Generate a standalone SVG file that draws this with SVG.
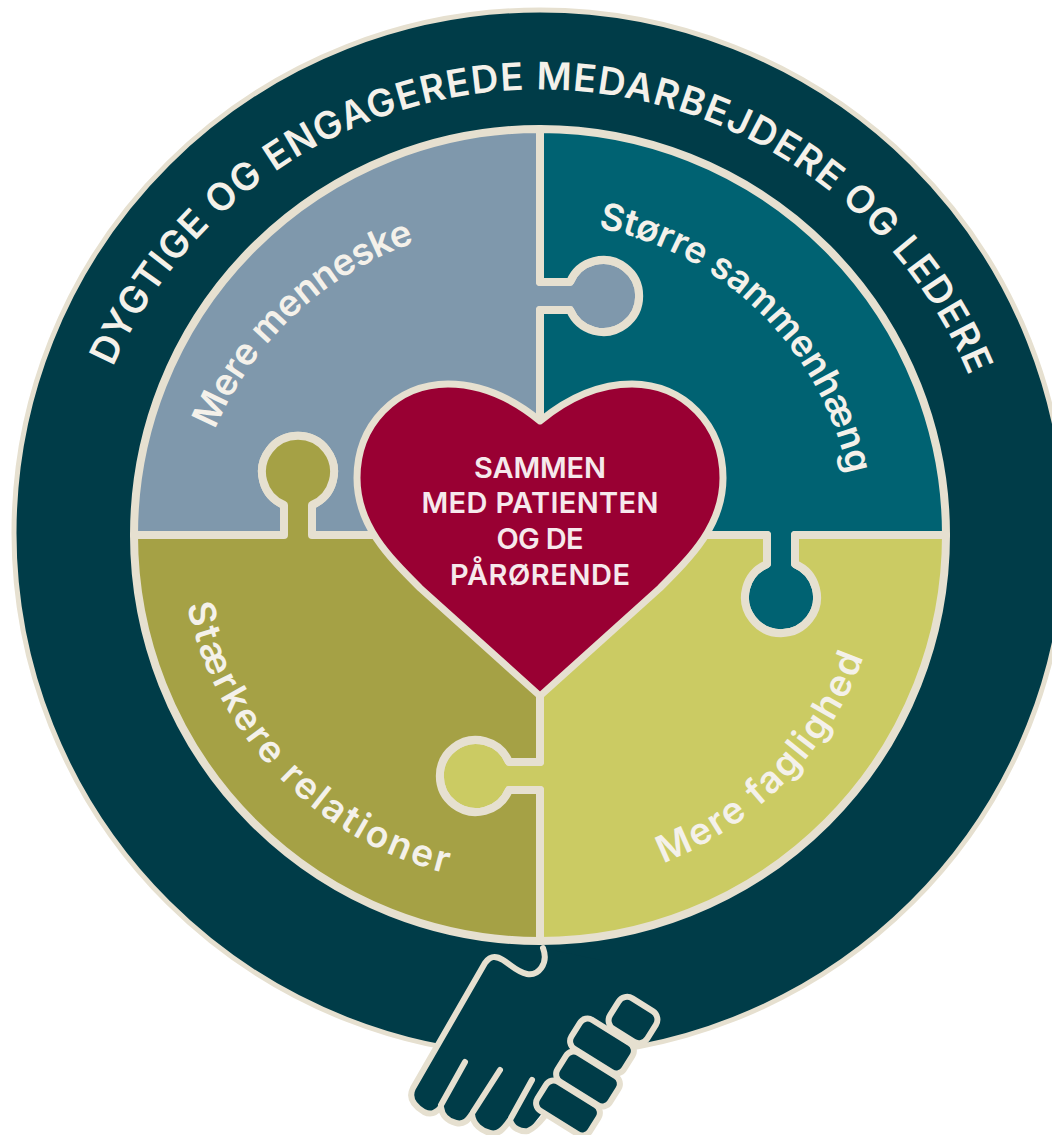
<svg xmlns="http://www.w3.org/2000/svg" width="1052" height="1135" viewBox="0 0 1052 1135">
<style>
.piece{stroke:#e6e0d0;stroke-width:8;stroke-linejoin:round}
.lbl{font-family:"Inter","Liberation Sans",sans-serif;font-weight:600;fill:#f4f1ea;font-size:37px}
.ring{font-family:"Inter","Liberation Sans",sans-serif;font-weight:600;fill:#f4f1ea;font-size:38px}
.ctr{font-family:"Inter","Liberation Sans",sans-serif;font-weight:600;fill:#f6e9ec;font-size:29px;text-anchor:middle}
.fg{fill:#003c48;stroke:#e6e0d0;stroke-width:6}
.ln{fill:none;stroke:#e6e0d0;stroke-width:6;stroke-linecap:round;stroke-linejoin:round}
</style>
<defs>
<path id="pRing" d="M 113 367 A 466 466 0 0 1 985 420"/>
<path id="pBlue" d="M 215 430 A 335 335 0 0 1 440 235"/>
<path id="pTeal" d="M 598 228 A 316 316 0 0 1 852 500"/>
<path id="pOlive" d="M 187 605 A 352 352 0 0 0 480 880"/>
<path id="pYellow" d="M 663 863 A 347 347 0 0 0 872 630"/>
</defs>
<rect width="1052" height="1135" fill="#ffffff"/>
<g id="ring">
<ellipse cx="540" cy="533" rx="526" ry="523" fill="#003c48" stroke="#e6e0d0" stroke-width="5"/>
<text class="ring"><textPath href="#pRing" textLength="1085" lengthAdjust="spacing">DYGTIGE OG ENGAGEREDE MEDARBEJDERE OG LEDERE</textPath></text>
</g>
<g id="piece-blue">
<path class="piece" fill="#7f98ac" d="M134 535A406 406 0 0 1 540 129L540 282L570 282A36 36 0 1 1 570 310L540 310L540 535L312 535L312 505A36 36 0 1 0 284 505L284 535Z"/>
<text class="lbl"><textPath href="#pBlue" textLength="282" lengthAdjust="spacing">Mere menneske</textPath></text>
</g>
<g id="piece-teal">
<path class="piece" fill="#006272" d="M540 129A406 406 0 0 1 946 535L795 535L795 564A36 36 0 1 1 767 564L767 535L540 535L540 310L570 310A36 36 0 1 0 570 282L540 282Z"/>
<text class="lbl"><textPath href="#pTeal" textLength="372" lengthAdjust="spacing">Større sammenhæng</textPath></text>
</g>
<g id="piece-yellow">
<path class="piece" fill="#cbcb63" d="M946 535A406 406 0 0 1 540 941L540 790L509 790A36 36 0 1 1 509 762L540 762L540 535L767 535L767 564A36 36 0 1 0 795 564L795 535Z"/>
<text class="lbl"><textPath href="#pYellow" textLength="296" lengthAdjust="spacing">Mere faglighed</textPath></text>
</g>
<g id="piece-olive">
<path class="piece" fill="#a5a145" d="M540 941A406 406 0 0 1 134 535L284 535L284 505A36 36 0 1 1 312 505L312 535L540 535L540 762L509 762A36 36 0 1 0 509 790L540 790Z"/>
<text class="lbl"><textPath href="#pOlive" textLength="393" lengthAdjust="spacing">Stærkere relationer</textPath></text>
</g>
<g id="heart">
<path d="M540 421C512 398 482 384 448 384C396 384 357 425 357 478C357 525 388 556 420 588L540 696L660 588C692 556 723 525 723 478C723 425 684 384 632 384C598 384 568 398 540 421Z" fill="#990033" stroke="#e6e0d0" stroke-width="7" stroke-linejoin="round"/>
<text class="ctr" x="540" y="478" textLength="132">SAMMEN</text>
<text class="ctr" x="540" y="513" textLength="237">MED PATIENTEN</text>
<text class="ctr" x="540" y="549" textLength="87">OG DE</text>
<text class="ctr" x="540" y="585" textLength="180">PÅRØRENDE</text>
</g>
<g id="hand">
<path d="M543 948C549 964 538 976 527 974C517 972 511 965 503 960C495 955 490 956 485 963L413 1088C408 1098 414 1106 424 1112C432 1116 437 1112 441 1107C442 1116 448 1121 456 1123C464 1125 468 1120 472 1114C473 1125 482 1131 490 1133C498 1135 503 1130 510 1120C512 1128 520 1132 528 1131L600 1040L640 1000L600 960Z" fill="#003c48"/>
<path class="ln" d="M543 948C549 964 538 976 527 974C517 972 511 965 503 960C495 955 490 956 485 963L413 1088C408 1098 414 1106 424 1112C432 1116 437 1112 441 1107C442 1116 448 1121 456 1123C464 1125 468 1120 472 1114C473 1125 482 1131 490 1133C498 1135 503 1130 510 1120C512 1128 520 1132 528 1131C535 1128 540 1122 544 1117"/>
<path class="ln" d="M465 1062L441 1105M500 1070L473 1112M532 1080L511 1118"/>
<rect class="fg" x="-31" y="-17" width="62" height="34" rx="9" transform="translate(568 1108) rotate(32)"/>
<rect class="fg" x="-31" y="-17" width="62" height="34" rx="9" transform="translate(588 1079) rotate(32)"/>
<rect class="fg" x="-31" y="-17" width="62" height="34" rx="9" transform="translate(602 1046) rotate(32)"/>
<rect class="fg" x="-22" y="-18" width="44" height="36" rx="10" transform="translate(633 1020) rotate(32)"/>
</g>
</svg>
